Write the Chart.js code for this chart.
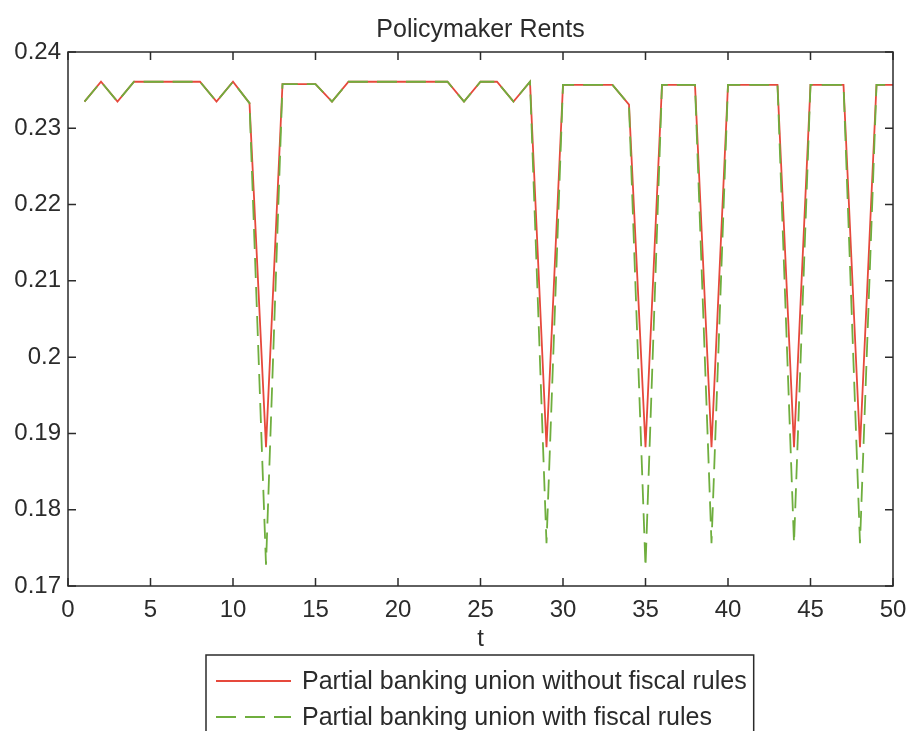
<!DOCTYPE html>
<html>
<head>
<meta charset="utf-8">
<title>Policymaker Rents</title>
<script src="https://cdn.jsdelivr.net/npm/chart.js@4.4.1/dist/chart.umd.min.js"></script>
<style>
  html, body { margin: 0; padding: 0; background: #fff; }
</style>
</head>
<body>
<canvas id="myChart" width="907" height="731"></canvas>
<script>
// periods t = 1..50
var periods = [1, 2, 3, 4, 5, 6, 7, 8, 9, 10,
  11, 12, 13, 14, 15, 16, 17, 18, 19, 20,
  21, 22, 23, 24, 25, 26, 27, 28, 29, 30,
  31, 32, 33, 34, 35, 36, 37, 38, 39, 40,
  41, 42, 43, 44, 45, 46, 47, 48, 49, 50];

// without fiscal rules (red, solid)
var rentsNoRules = [0.2335, 0.2361, 0.2335, 0.2361, 0.2361, 0.2361, 0.2361, 0.2361, 0.2335, 0.2361,
  0.2333, 0.1882, 0.2358, 0.2358, 0.2358, 0.2335, 0.2361, 0.2361, 0.2361, 0.2361,
  0.2361, 0.2361, 0.2361, 0.2335, 0.2361, 0.2361, 0.2335, 0.2361, 0.1882, 0.2357,
  0.2357, 0.2357, 0.2357, 0.2331, 0.1882, 0.2357, 0.2357, 0.2357, 0.1882, 0.2357,
  0.2357, 0.2357, 0.2357, 0.1882, 0.2357, 0.2357, 0.2357, 0.1882, 0.2357, 0.2357];

// with fiscal rules (green, dashed)
var rentsFiscalRules = [0.2335, 0.2361, 0.2335, 0.2361, 0.2361, 0.2361, 0.2361, 0.2361, 0.2335, 0.2361,
  0.2333, 0.1728, 0.2358, 0.2358, 0.2358, 0.2335, 0.2361, 0.2361, 0.2361, 0.2361,
  0.2361, 0.2361, 0.2361, 0.2335, 0.2361, 0.2361, 0.2335, 0.2361, 0.1756, 0.2357,
  0.2357, 0.2357, 0.2357, 0.2331, 0.1725, 0.2357, 0.2357, 0.2357, 0.1756, 0.2357,
  0.2357, 0.2357, 0.2357, 0.1756, 0.2357, 0.2357, 0.2357, 0.1756, 0.2357, 0.2357];

var xTicks = [0, 5, 10, 15, 20, 25, 30, 35, 40, 45, 50];
var yTicks = [0.17, 0.18, 0.19, 0.2, 0.21, 0.22, 0.23, 0.24];
var seriesLabels = ['Partial banking union without fiscal rules', 'Partial banking union with fiscal rules'];

var FONT = "'Liberation Sans', Arial, sans-serif";
var INK = '#2b2b2b';

function toPoints(ys) {
  return periods.map(function (t, i) { return { x: t, y: ys[i] }; });
}

// center the title over the plot area instead of the whole canvas
var titleOverPlot = {
  id: 'titleOverPlot',
  afterLayout: function (chart) {
    if (chart.titleBlock) {
      chart.titleBlock.left = chart.chartArea.left;
      chart.titleBlock.right = chart.chartArea.right;
    }
  }
};

// box + inward ticks on all four sides, matlab style
var frameTicks = {
  id: 'frameTicks',
  afterDatasetsDraw: function (chart) {
    var ctx = chart.ctx, a = chart.chartArea, sx = chart.scales.x, sy = chart.scales.y;
    ctx.save();
    ctx.strokeStyle = INK;
    ctx.lineWidth = 1.5;
    ctx.strokeRect(a.left, a.top, a.right - a.left, a.bottom - a.top);
    ctx.beginPath();
    sx.ticks.forEach(function (t) {
      var px = sx.getPixelForValue(t.value);
      ctx.moveTo(px, a.bottom); ctx.lineTo(px, a.bottom - 8);
      ctx.moveTo(px, a.top); ctx.lineTo(px, a.top + 8);
    });
    sy.ticks.forEach(function (t) {
      var py = sy.getPixelForValue(t.value);
      ctx.moveTo(a.left, py); ctx.lineTo(a.left + 8, py);
      ctx.moveTo(a.right, py); ctx.lineTo(a.right - 8, py);
    });
    ctx.stroke();
    ctx.restore();
  }
};

// boxed legend below the x axis title
var boxLegend = {
  id: 'boxLegend',
  afterDraw: function (chart) {
    var ctx = chart.ctx, a = chart.chartArea;
    var ds = chart.data.datasets;
    ctx.save();
    ctx.font = '25px ' + FONT;
    var textW = 0;
    ds.forEach(function (d) { textW = Math.max(textW, ctx.measureText(d.label).width); });
    var sample = 75, padL = 10, gap = 11, padR = 7;
    var w = padL + sample + gap + textW + padR;
    var x0 = Math.round((a.left + a.right) / 2 - w / 2) - 1;
    var y0 = 655;
    ctx.fillStyle = '#fff';
    ctx.fillRect(x0, y0, w, 100);
    ctx.strokeStyle = INK;
    ctx.lineWidth = 1.5;
    ctx.strokeRect(x0, y0, w, 100);
    ds.forEach(function (d, i) {
      var yy = y0 + 26 + i * 36;
      ctx.beginPath();
      ctx.strokeStyle = d.borderColor;
      ctx.lineWidth = d.borderWidth;
      ctx.setLineDash(d.borderDash || []);
      ctx.moveTo(x0 + padL, yy);
      ctx.lineTo(x0 + padL + sample, yy);
      ctx.stroke();
      ctx.setLineDash([]);
      ctx.fillStyle = INK;
      ctx.textBaseline = 'middle';
      ctx.textAlign = 'left';
      ctx.fillText(d.label, x0 + padL + sample + gap, yy + 1);
    });
    ctx.restore();
  }
};

var chart = new Chart(document.getElementById('myChart'), {
  type: 'line',
  data: {
    datasets: [{
      label: seriesLabels[0],
      data: toPoints(rentsNoRules),
      borderColor: '#e6493c',
      borderWidth: 1.8,
      pointRadius: 0,
      tension: 0,
      order: 2
    }, {
      label: seriesLabels[1],
      data: toPoints(rentsFiscalRules),
      borderColor: '#6fae3e',
      borderWidth: 1.8,
      borderDash: [20, 9],
      pointRadius: 0,
      tension: 0,
      order: 1
    }]
  },
  options: {
    responsive: false,
    animation: false,
    layout: { padding: { left: 0, right: 14, top: 0, bottom: 75 } },
    plugins: {
      legend: { display: false },
      tooltip: { enabled: false },
      title: {
        display: true,
        text: 'Policymaker Rents',
        color: INK,
        font: { family: FONT, size: 25, weight: 'normal' },
        padding: { top: 15, bottom: 7 }
      }
    },
    scales: {
      x: {
        type: 'linear',
        min: 0,
        max: 50,
        afterBuildTicks: function (scale) {
          scale.ticks = xTicks.map(function (v) { return { value: v }; });
        },
        afterFit: function (scale) {
          scale.height = 70;
          scale.paddingLeft = 0;
          scale.paddingRight = 0;
        },
        grid: { display: false, drawTicks: false },
        border: { display: false },
        ticks: {
          color: INK,
          font: { family: FONT, size: 24 },
          padding: 10,
          maxRotation: 0
        },
        title: {
          display: true,
          text: 't',
          color: INK,
          font: { family: FONT, size: 24 },
          padding: { top: 0, bottom: 2 }
        }
      },
      y: {
        min: 0.17,
        max: 0.24,
        afterBuildTicks: function (scale) {
          scale.ticks = yTicks.map(function (v) { return { value: v }; });
        },
        afterFit: function (scale) { scale.width = 68; },
        grid: { display: false, drawTicks: false },
        border: { display: false },
        ticks: {
          color: INK,
          font: { family: FONT, size: 24 },
          padding: 7,
          callback: function (v) { return String(parseFloat(v.toFixed(2))); }
        }
      }
    }
  },
  plugins: [titleOverPlot, frameTicks, boxLegend]
});
</script>
</body>
</html>
